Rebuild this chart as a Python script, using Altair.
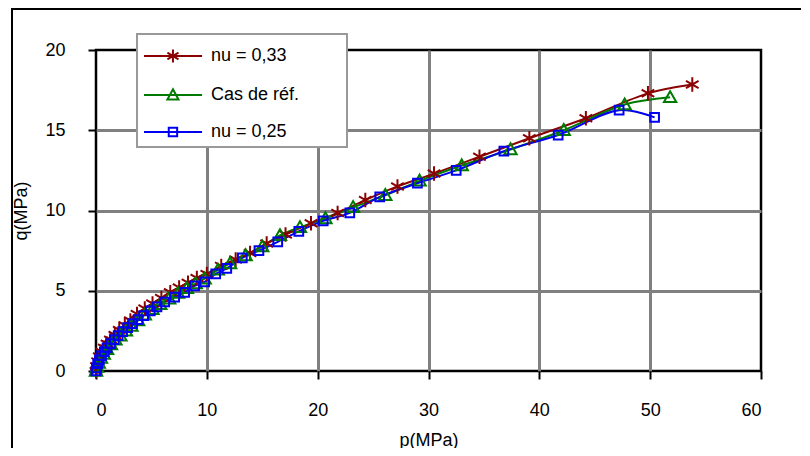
import altair as alt
import pandas as pd

series_names = ["nu = 0,33", "Cas de réf.", "nu = 0,25"]
series_colors = ["#8B0000", "#007A00", "#0000EE"]

red_p = [0, 0.05, 0.15, 0.3, 0.5, 0.75, 1.0, 1.3, 1.7, 2.1, 2.6, 3.1, 3.7, 4.4, 5.1, 5.9, 6.7, 7.5, 8.3, 9.1,
         10.0, 11.3, 12.6, 13.9, 15.4, 17.1, 19.4, 21.8, 24.3, 27.2, 30.5, 34.6, 39.1, 44.2, 49.8, 53.8]
red_q = [0, 0.3, 0.6, 0.9, 1.2, 1.45, 1.7, 1.95, 2.25, 2.55, 2.85, 3.15, 3.55, 3.9, 4.2, 4.55, 4.9, 5.2, 5.5, 5.8,
         6.05, 6.55, 6.95, 7.35, 7.95, 8.5, 9.2, 9.85, 10.65, 11.5, 12.3, 13.35, 14.5, 15.75, 17.3, 17.85]

green_p = [0, 0.1, 0.25, 0.45, 0.7, 1.0, 1.35, 1.75, 2.2, 2.7, 3.2, 3.8, 4.4, 5.1, 5.8, 6.6, 7.4, 8.2, 9.0, 9.8,
           11.0, 12.1, 13.5, 15.0, 16.6, 18.4, 20.7, 23.2, 26.1, 29.2, 33.0, 37.4, 42.2, 47.7, 51.8]
green_q = [0, 0.25, 0.5, 0.8, 1.05, 1.35, 1.65, 1.95, 2.2, 2.5, 2.8, 3.15, 3.5, 3.85, 4.15, 4.5, 4.85, 5.15, 5.45, 5.75,
           6.3, 6.7, 7.2, 7.75, 8.45, 8.95, 9.5, 10.2, 10.95, 11.85, 12.8, 13.8, 15.0, 16.6, 17.05]

blue_p = [0, 0.05, 0.15, 0.3, 0.5, 0.75, 1.0, 1.3, 1.65, 2.0, 2.4, 2.85, 3.3, 3.8, 4.3, 4.9, 5.5, 6.2, 7.1, 8.0,
          8.9, 9.8, 10.8, 11.8, 13.2, 14.7, 16.4, 18.3, 20.5, 22.9, 25.6, 29.0, 32.5, 36.8, 41.7, 47.2, 50.4]
blue_q = [0, 0.2, 0.45, 0.7, 0.95, 1.2, 1.45, 1.7, 1.95, 2.2, 2.45, 2.7, 2.95, 3.2, 3.45, 3.75, 4.0, 4.3, 4.6, 4.9,
          5.3, 5.55, 6.05, 6.4, 7.05, 7.5, 8.05, 8.7, 9.35, 9.85, 10.85, 11.7, 12.5, 13.7, 14.7, 16.25, 15.8]

x_ticks = [0, 10, 20, 30, 40, 50, 60]
y_ticks = [0, 5, 10, 15, 20]

# marker paths (unit space) for the plotted points
marker_paths = [
    "M0,-1L0,1M-0.87,-0.5L0.87,0.5M-0.87,0.5L0.87,-0.5",
    "M0,-0.85L0.85,0.65L-0.85,0.65Z",
    "M-0.6,-0.6L0.6,-0.6L0.6,0.6L-0.6,0.6Z",
]
# legend symbols: line segment with marker in its middle (unit = 15 px)
legend_paths = [
    "M-1,0L2.87,0M0.93,-0.43L0.93,0.43M0.56,-0.22L1.3,0.22M0.56,0.22L1.3,-0.22",
    "M-1,0L2.87,0M0.93,-0.38L1.3,0.3L0.56,0.3Z",
    "M-1,0L2.87,0M0.65,-0.28L1.21,-0.28L1.21,0.28L0.65,0.28Z",
]

frames = []
for name, ps, qs in zip(series_names, [red_p, green_p, blue_p], [red_q, green_q, blue_q]):
    frames.append(pd.DataFrame({"p": ps, "q": qs, "series": name}))
df = pd.concat(frames, ignore_index=True)
df["order"] = df["series"].map({n: i for i, n in enumerate(series_names)})

W, H = 665, 321
PAD = {"left": 88, "top": 42, "right": 40, "bottom": 77}
LEG_X, LEG_Y, LEG_W, LEG_H = 41, -16, 210, 113

xs = alt.Scale(domain=[0, 60], nice=False)
ys = alt.Scale(domain=[0, 20], nice=False)
grid_cond_x = {"condition": {"test": "datum.value == 0 || datum.value == 60", "value": "transparent"}, "value": "#808080"}
grid_cond_y = {"condition": {"test": "datum.value == 0 || datum.value == 20", "value": "transparent"}, "value": "#808080"}

x_enc = alt.X("p:Q", scale=xs, title="p(MPa)",
              axis=alt.Axis(values=x_ticks, labelPadding=22, titlePadding=12, gridColor=grid_cond_x))
y_enc = alt.Y("q:Q", scale=ys, title="q(MPa)",
              axis=alt.Axis(values=y_ticks, labelPadding=23, titleX=-66, gridColor=grid_cond_y))

color_scale = alt.Scale(domain=series_names, range=series_colors)

lines = alt.Chart(df).mark_line(strokeWidth=2, interpolate="catmull-rom").encode(
    x=x_enc, y=y_enc,
    color=alt.Color("series:N", scale=color_scale, legend=None),
    order="order:Q",
)

points = alt.Chart(df).mark_point(filled=False, strokeWidth=2, size=210, opacity=1).encode(
    x=alt.X("p:Q", scale=xs), y=alt.Y("q:Q", scale=ys),
    color=alt.Color("series:N", scale=color_scale, legend=None),
    shape=alt.Shape("series:N", scale=alt.Scale(domain=series_names, range=marker_paths), legend=None),
)

legend_layer = alt.Chart(df).mark_point(filled=False, strokeWidth=2, size=900).encode(
    x=alt.X("p:Q", scale=xs), y=alt.Y("q:Q", scale=ys),
    color=alt.Color("series:N", scale=color_scale,
                    legend=alt.Legend(title=None, orient="none", legendX=LEG_X, legendY=LEG_Y,
                                      symbolOpacity=1, symbolStrokeWidth=2, symbolSize=900)),
    shape=alt.Shape("series:N", scale=alt.Scale(domain=series_names, range=legend_paths)),
    opacity=alt.value(0),
)

one = pd.DataFrame({"a": [0]})
# legend frame (white box with grey border)
legend_box = alt.Chart(one).mark_rect(fill="white", stroke="#999999", strokeWidth=2).encode(
    x=alt.value(LEG_X), x2=alt.value(LEG_X + LEG_W), y=alt.value(LEG_Y), y2=alt.value(LEG_Y + LEG_H)
)
# chart-area frame (left and top edges visible)
outer_left = alt.Chart(one).mark_rule(stroke="black", strokeWidth=2).encode(
    x=alt.value(-84), y=alt.value(-41), y2=alt.value(H + PAD["bottom"])
)
outer_top = alt.Chart(one).mark_rule(stroke="black", strokeWidth=2).encode(
    x=alt.value(-85), x2=alt.value(W + PAD["right"]), y=alt.value(-41)
)

chart = alt.layer(outer_left, outer_top, lines, points, legend_box, legend_layer).resolve_scale(
    color="independent", shape="independent"
).properties(
    width=W, height=H,
    autosize=alt.AutoSizeParams(type="none"),
    padding=PAD,
    background="white",
).configure_view(
    stroke="black", strokeWidth=2.5
).configure_axis(
    grid=True, gridWidth=3, domain=False,
    tickColor="black", tickWidth=2, tickSize=8,
    labelFont="Liberation Sans", labelFontSize=18, labelColor="black",
    titleFont="Liberation Sans", titleFontSize=18, titleFontWeight="normal", titleColor="black",
).configure_legend(
    labelFont="Liberation Sans", labelFontSize=18, labelColor="black",
    strokeColor="transparent", fillColor="transparent",
    padding=6, rowPadding=12, labelOffset=36,
)

chart.save("out.html", embed_options={"renderer": "svg", "actions": False})
